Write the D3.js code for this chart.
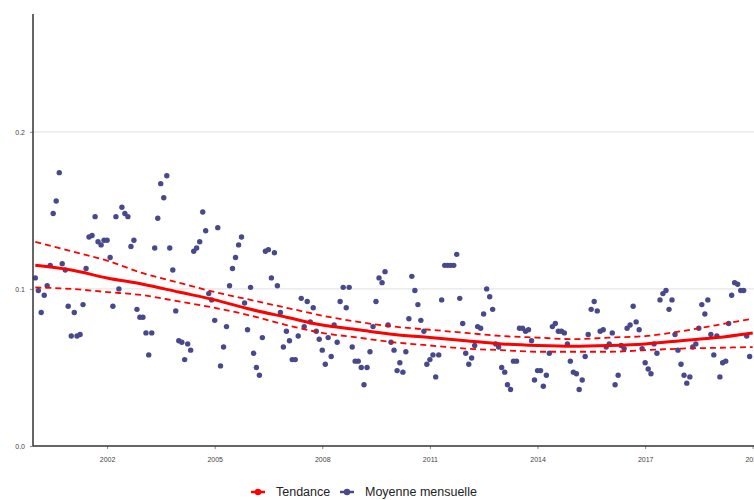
<!DOCTYPE html>
<html>
<head>
<meta charset="utf-8">
<script src="https://cdn.jsdelivr.net/npm/d3@7"></script>
<style>
  body { margin: 0; background: #fff; }
  svg { display: block; font-family: Arial, "Liberation Sans", sans-serif; }
</style>
</head>
<body>
<div id="chart"></div>
<script>
// monthly means, jan 2000 -> dec 2019
var startYear = 2000;
var monthlyMean = [
  0.107, 0.099, 0.085, 0.096, 0.102, 0.115, 0.148, 0.156, 0.174, 0.116, 0.112, 0.089,
  0.070, 0.085, 0.070, 0.071, 0.090, 0.113, 0.133, 0.134, 0.146, 0.130, 0.128, 0.131,
  0.131, 0.120, 0.089, 0.146, 0.100, 0.152, 0.148, 0.146, 0.127, 0.131, 0.087, 0.082,
  0.082, 0.072, 0.058, 0.072, 0.126, 0.145, 0.167, 0.158, 0.172, 0.126, 0.112, 0.086,
  0.067, 0.066, 0.055, 0.065, 0.061, 0.124, 0.126, 0.130, 0.149, 0.137, 0.097, 0.093,
  0.080, 0.139, 0.051, 0.063, 0.076, 0.102, 0.113, 0.120, 0.128, 0.133, 0.091, 0.074,
  0.101, 0.059, 0.050, 0.045, 0.069, 0.124, 0.125, 0.107, 0.123, 0.102, 0.085, 0.063,
  0.073, 0.067, 0.055, 0.055, 0.070, 0.094, 0.076, 0.092, 0.079, 0.088, 0.073, 0.068,
  0.061, 0.052, 0.069, 0.057, 0.077, 0.066, 0.092, 0.101, 0.088, 0.101, 0.063, 0.054,
  0.054, 0.050, 0.039, 0.050, 0.060, 0.076, 0.092, 0.107, 0.104, 0.111, 0.077, 0.066,
  0.061, 0.048, 0.053, 0.047, 0.060, 0.081, 0.108, 0.099, 0.090, 0.080, 0.073, 0.052,
  0.055, 0.058, 0.044, 0.058, 0.093, 0.115, 0.115, 0.115, 0.115, 0.122, 0.094, 0.078,
  0.059, 0.052, 0.056, 0.064, 0.076, 0.075, 0.084, 0.100, 0.095, 0.087, 0.065, 0.063,
  0.050, 0.047, 0.039, 0.036, 0.054, 0.054, 0.075, 0.075, 0.073, 0.074, 0.067, 0.042,
  0.048, 0.048, 0.038, 0.045, 0.059, 0.076, 0.078, 0.073, 0.073, 0.072, 0.065, 0.054,
  0.047, 0.046, 0.036, 0.042, 0.057, 0.071, 0.087, 0.092, 0.086, 0.073, 0.074, 0.063,
  0.065, 0.072, 0.039, 0.045, 0.064, 0.062, 0.075, 0.077, 0.089, 0.079, 0.074, 0.062,
  0.053, 0.049, 0.046, 0.065, 0.059, 0.093, 0.097, 0.099, 0.087, 0.093, 0.071, 0.061,
  0.052, 0.045, 0.040, 0.044, 0.063, 0.065, 0.075, 0.090, 0.084, 0.093, 0.071, 0.058,
  0.070, 0.044, 0.053, 0.054, 0.078, 0.096, 0.104, 0.103, 0.099, 0.099, 0.070, 0.057
];

// smoothed trend and its band, one knot per year
var trendYears = [2000, 2001, 2002, 2003, 2004, 2005, 2006, 2007, 2008, 2009, 2010,
                  2011, 2012, 2013, 2014, 2015, 2016, 2017, 2018, 2019, 2020];
var trendFit   = [0.115, 0.112, 0.107, 0.103, 0.098, 0.093, 0.087, 0.082, 0.077, 0.074, 0.071,
                  0.069, 0.067, 0.065, 0.064, 0.0635, 0.064, 0.065, 0.067, 0.069, 0.072];
var trendUpper = [0.130, 0.124, 0.118, 0.110, 0.104, 0.098, 0.093, 0.088, 0.083, 0.079, 0.076,
                  0.074, 0.072, 0.070, 0.069, 0.068, 0.069, 0.070, 0.073, 0.077, 0.081];
var trendLower = [0.101, 0.100, 0.098, 0.096, 0.092, 0.088, 0.083, 0.077, 0.072, 0.069, 0.066,
                  0.064, 0.062, 0.061, 0.060, 0.060, 0.060, 0.061, 0.062, 0.0625, 0.063];

var xTickYears = [2002, 2005, 2008, 2011, 2014, 2017, 2020];
var yTicks = [0.0, 0.1, 0.2];
var legendLabels = ["Tendance", "Moyenne mensuelle"];
var legendColors = ["#ff0000", "#48488c"];

var width = 754, height = 500;
var plotLeft = 33, plotBottom = 446, plotTop = 14;

var svg = d3.select("#chart").append("svg")
  .attr("width", width)
  .attr("height", height);

var x = d3.scaleTime()
  .domain([new Date(2000, 0, 1), new Date(2020, 0, 1)])
  .range([35.3, 752.7]);

var y = d3.scaleLinear()
  .domain([0, 0.275])
  .range([plotBottom, plotTop]);

// gridlines
svg.append("g")
  .selectAll("line")
  .data(yTicks.slice(1))
  .enter().append("line")
  .attr("x1", plotLeft).attr("x2", width)
  .attr("y1", function (d) { return y(d); })
  .attr("y2", function (d) { return y(d); })
  .attr("stroke", "#e6e6e6")
  .attr("stroke-width", 1.2);

// points
var points = monthlyMean.map(function (v, i) {
  return { date: new Date(startYear, i, 1), value: v };
});

svg.append("g")
  .selectAll("circle")
  .data(points)
  .enter().append("circle")
  .attr("cx", function (d) { return x(d.date); })
  .attr("cy", function (d) { return y(d.value); })
  .attr("r", 2.7)
  .attr("fill", legendColors[1]);

// trend lines
var trendDate = function (yr) { return new Date(yr, 0, 1); };

function trendLine(vals) {
  return d3.line()
    .curve(d3.curveMonotoneX)
    .x(function (d, i) { return x(trendDate(trendYears[i])); })
    .y(function (d) { return y(d); })(vals);
}

svg.append("path")
  .attr("d", trendLine(trendUpper))
  .attr("fill", "none")
  .attr("stroke", "#ff0000")
  .attr("stroke-width", 1.8)
  .attr("stroke-dasharray", "6,4");

svg.append("path")
  .attr("d", trendLine(trendLower))
  .attr("fill", "none")
  .attr("stroke", "#ff0000")
  .attr("stroke-width", 1.8)
  .attr("stroke-dasharray", "6,4");

svg.append("path")
  .attr("d", trendLine(trendFit))
  .attr("fill", "none")
  .attr("stroke", "#ff0000")
  .attr("stroke-width", 3);

// axes
var xAxis = d3.axisBottom(x)
  .tickValues(xTickYears.map(function (yr) { return new Date(yr, 0, 1); }))
  .tickFormat(d3.timeFormat("%Y"))
  .tickSize(3)
  .tickPadding(8);

var gx = svg.append("g")
  .attr("transform", "translate(0," + plotBottom + ")")
  .call(xAxis);
gx.select(".domain").remove();
gx.selectAll("line").attr("stroke", "#888");
gx.selectAll("text").attr("font-size", 7).attr("fill", "#444");

var yAxis = d3.axisLeft(y)
  .tickValues(yTicks)
  .tickFormat(d3.format(".1f"))
  .tickSize(3)
  .tickPadding(5);

var gy = svg.append("g")
  .attr("transform", "translate(" + plotLeft + ",0)")
  .call(yAxis);
gy.select(".domain").remove();
gy.selectAll("line").attr("stroke", "#888");
gy.selectAll("text").attr("font-size", 7).attr("fill", "#444");

svg.append("line")
  .attr("x1", plotLeft).attr("x2", width)
  .attr("y1", plotBottom).attr("y2", plotBottom)
  .attr("stroke", "#333").attr("stroke-width", 1.5);

svg.append("line")
  .attr("x1", plotLeft).attr("x2", plotLeft)
  .attr("y1", plotTop).attr("y2", plotBottom)
  .attr("stroke", "#333").attr("stroke-width", 1.5);

// legend
var legendX = [251, 340];
var legend = svg.append("g")
  .selectAll("g")
  .data(legendLabels)
  .enter().append("g")
  .attr("transform", function (d, i) { return "translate(" + legendX[i] + ",492)"; });

legend.append("line")
  .attr("x1", 0).attr("x2", 14)
  .attr("stroke", function (d, i) { return legendColors[i]; })
  .attr("stroke-width", 2.5);

legend.append("circle")
  .attr("cx", 7).attr("r", 3.2)
  .attr("fill", function (d, i) { return legendColors[i]; });

legend.append("text")
  .attr("x", 25)
  .attr("dy", "0.35em")
  .attr("font-size", 12.5)
  .attr("fill", "#222")
  .text(function (d) { return d; });
</script>
</body>
</html>
